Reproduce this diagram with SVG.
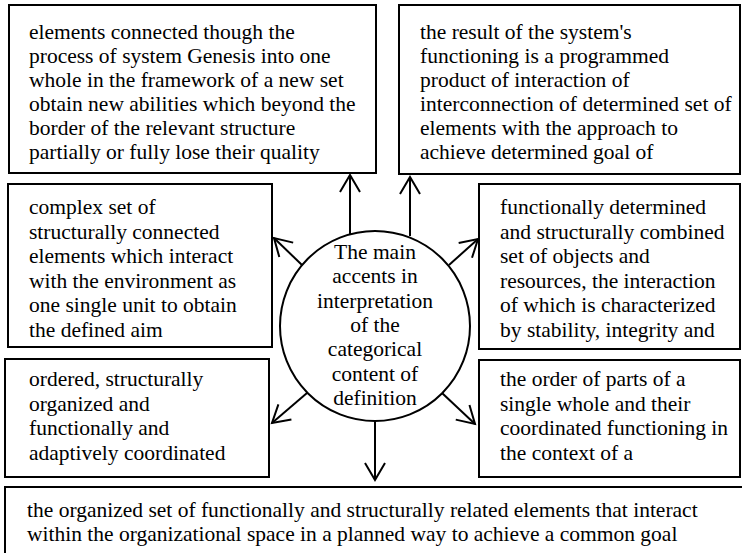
<svg xmlns="http://www.w3.org/2000/svg" width="742" height="553" viewBox="0 0 742 553">
<style>
.box{fill:#fff;stroke:#000;stroke-width:2}
.t{font-family:"Liberation Serif","Times New Roman",serif;font-size:21.5px;fill:#000}
.c{text-anchor:middle}
.con{stroke:#000;stroke-width:2;fill:none}
</style>
<defs>
<marker id="ah" viewBox="-20 -12 22 24" markerWidth="22" markerHeight="24" refX="0" refY="0" markerUnits="userSpaceOnUse" orient="auto" overflow="visible">
<path d="M-17,-10 L0,0 L-17,10" fill="none" stroke="#000" stroke-width="2"/>
</marker>
</defs>
<rect width="742" height="553" fill="#fff"/>
<g id="n1">
<rect class="box" x="9" y="5" width="367" height="168"/>
<text class="t"><tspan x="29" y="39">elements connected though the</tspan><tspan x="29" y="63">process of system Genesis into one</tspan><tspan x="29" y="87">whole in the framework of a new set</tspan><tspan x="29" y="111">obtain new abilities which beyond the</tspan><tspan x="29" y="135">border of the relevant structure</tspan><tspan x="29" y="159">partially or fully lose their quality</tspan></text>
</g>
<g id="n2">
<rect class="box" x="399" y="5" width="341" height="169"/>
<text class="t"><tspan x="420" y="39">the result of the system's</tspan><tspan x="420" y="63">functioning is a programmed</tspan><tspan x="420" y="87">product of interaction of</tspan><tspan x="420" y="111">interconnection of determined set of</tspan><tspan x="420" y="135">elements with the approach to</tspan><tspan x="420" y="159">achieve determined goal of</tspan></text>
</g>
<g id="n3">
<rect class="box" x="8" y="184" width="264" height="163"/>
<text class="t"><tspan x="29" y="214">complex set of</tspan><tspan x="29" y="238.5">structurally connected</tspan><tspan x="29" y="263">elements which interact</tspan><tspan x="29" y="287.5">with the environment as</tspan><tspan x="29" y="312">one single unit to obtain</tspan><tspan x="29" y="336.5">the defined aim</tspan></text>
</g>
<g id="n4">
<rect class="box" x="479" y="184" width="261" height="165"/>
<text class="t"><tspan x="500" y="214">functionally determined</tspan><tspan x="500" y="238.5">and structurally combined</tspan><tspan x="500" y="263">set of objects and</tspan><tspan x="500" y="287.5">resources, the interaction</tspan><tspan x="500" y="312">of which is characterized</tspan><tspan x="500" y="336.5">by stability, integrity and</tspan></text>
</g>
<g id="n5">
<rect class="box" x="5" y="359" width="264" height="118"/>
<text class="t"><tspan x="29" y="386">ordered, structurally</tspan><tspan x="29" y="410.5">organized and</tspan><tspan x="29" y="435">functionally and</tspan><tspan x="29" y="459.5">adaptively coordinated</tspan></text>
</g>
<g id="n6">
<rect class="box" x="479" y="360" width="261" height="117"/>
<text class="t"><tspan x="500" y="386">the order of parts of a</tspan><tspan x="500" y="410.5">single whole and their</tspan><tspan x="500" y="435">coordinated functioning in</tspan><tspan x="500" y="459.5">the context of a</tspan></text>
</g>
<g id="n7">
<rect class="box" x="5" y="487" width="750" height="80"/>
<text class="t"><tspan x="27" y="517">the organized set of functionally and structurally related elements that interact</tspan><tspan x="27" y="541">within the organizational space in a planned way to achieve a common goal</tspan></text>
</g>
<g id="center">
<circle class="box" cx="375" cy="326" r="95"/>
<text class="t c"><tspan x="375" y="259">The main</tspan><tspan x="375" y="283.3">accents in</tspan><tspan x="375" y="307.6">interpretation</tspan><tspan x="375" y="332">of the</tspan><tspan x="375" y="356.3">categorical</tspan><tspan x="375" y="380.6">content of</tspan><tspan x="375" y="405">definition</tspan></text>
</g>
<g id="connectors" class="con">
<line x1="350" y1="234" x2="350" y2="175" marker-end="url(#ah)"/>
<line x1="410" y1="236" x2="410" y2="177" marker-end="url(#ah)"/>
<line x1="302" y1="265" x2="274" y2="238" marker-end="url(#ah)"/>
<line x1="449" y1="265" x2="478" y2="239" marker-end="url(#ah)"/>
<line x1="307" y1="393" x2="272" y2="423" marker-end="url(#ah)"/>
<line x1="442" y1="393" x2="475" y2="424" marker-end="url(#ah)"/>
<line x1="375" y1="421" x2="375" y2="480" marker-end="url(#ah)"/>
</g>
</svg>
